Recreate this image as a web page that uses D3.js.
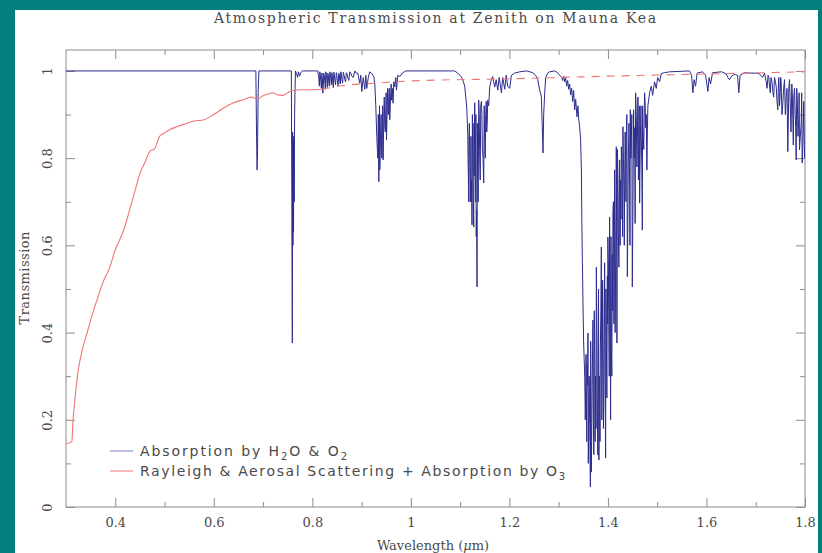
<!DOCTYPE html>
<html>
<head>
<meta charset="utf-8">
<script src="https://cdn.jsdelivr.net/npm/d3@7"></script>
<style>
    body { margin: 0; background: #037e7f; }
    svg { display: block; }
</style>
</head>
<body>
<svg id="chart" width="822" height="553"></svg>
<script>
// transmission spectrum: [wavelength (um), transmission]
let absFlat = [[0.300,1.0],[0.6854,1.0],[0.6868,0.85],[0.6878,0.773],[0.6886,0.80],[0.6900,0.95],[0.6915,1.0],[0.7574,1.0]];
let absO2A = [[0.7584,0.70],[0.7594,0.376],[0.7600,0.86],[0.7606,0.60],[0.7612,0.85],[0.7618,0.63],[0.7625,0.84],[0.7632,0.70],
    [0.7640,0.90],[0.7648,0.95],[0.7658,1.0],[0.7680,0.994],[0.7700,0.985],[0.7720,0.998],[0.7740,0.988],[0.7770,0.997],[0.7800,1.0],[0.8112,1.0]];
let absH2O09 = [[0.8132,0.985],[0.8152,0.998],[0.8173,0.975],[0.8193,0.995],[0.8213,0.949],[0.8233,0.995],[0.8254,0.972],[0.8274,0.998],
    [0.8294,0.978],[0.8314,0.995],[0.8335,0.972],[0.8355,0.998],[0.8375,0.982],[0.8396,0.996],[0.8416,0.972],[0.8436,0.997],[0.8456,0.980],
    [0.8487,0.996],[0.8507,0.978],[0.8538,0.995],[0.8558,0.975],[0.8578,0.998],[0.8598,0.982],[0.8629,0.997],[0.8659,0.980],[0.8690,0.996],
    [0.8720,0.985],[0.8761,0.998],[0.8801,0.988],[0.8862,1.0],[0.8923,0.995],[0.8963,0.972],[0.8984,0.990],[0.9004,0.953],[0.9034,0.985],
    [0.9065,0.958],[0.9085,0.990],[0.9105,0.960],[0.9136,0.985],[0.9166,0.998],[0.9207,0.994],[0.9247,0.987],[0.9268,0.970],[0.9288,0.920],
    [0.9308,0.850],[0.9329,0.800],[0.9349,0.746],[0.9359,0.850],[0.9369,0.773],[0.9389,0.880],[0.9404,0.826],[0.9420,0.860],[0.9436,0.796],
    [0.9450,0.890],[0.9471,0.872],[0.9491,0.910],[0.9505,0.842],[0.9521,0.920],[0.9537,0.903],[0.9552,0.940],[0.9572,0.888],[0.9592,0.950],
    [0.9607,0.933],[0.9623,0.960],[0.9639,0.926],[0.9653,0.975],[0.9673,0.964],[0.9694,0.985],[0.9708,0.956],[0.9734,0.990],[0.9775,0.987],
    [0.9836,0.996],[0.9897,1.0],[1.0890,1.0]];
let absH2O09b = [[0.8122,0.990],[0.8142,0.965],[0.8163,0.990],[0.8183,0.960],[0.8203,0.985],[0.8223,0.968],[0.8244,0.990],[0.8264,0.958],
    [0.8284,0.992],[0.8304,0.962],[0.8325,0.990],[0.8345,0.965],[0.8365,0.993],[0.8386,0.968],[0.8406,0.990],[0.8426,0.962],[0.8446,0.992],
    [0.8471,0.968],[0.8497,0.990],[0.8522,0.966],[0.8548,0.992],[0.8568,0.970],[0.8588,0.993],[0.8614,0.972],[0.8644,0.990],[0.8675,0.975],
    [0.8705,0.993],[0.8740,0.978],[0.8781,0.995],[0.8830,0.985],[0.8890,0.995],[0.9339,0.900],[0.9354,0.780],[0.9364,0.920],[0.9379,0.820],
    [0.9396,0.900],[0.9412,0.800],[0.9428,0.920],[0.9443,0.840],[0.9460,0.940],[0.9481,0.860],[0.9498,0.950],[0.9513,0.880],[0.9529,0.960],
    [0.9545,0.900],[0.9562,0.960],[0.9582,0.920],[0.9600,0.970],[0.9615,0.940]];
let absH2O11 = [[1.0951,0.995],[1.1012,0.988],[1.1053,0.980],[1.1093,0.965],[1.1114,0.940],[1.1134,0.917],[1.1154,0.858],[1.1168,0.750],
    [1.1179,0.840],[1.1195,0.796],[1.1215,0.757],[1.1225,0.700],[1.1241,0.647],[1.1256,0.800],[1.1276,0.642],[1.1286,0.760],[1.1296,0.927],
    [1.1312,0.700],[1.1327,0.620],[1.1343,0.505],[1.1357,0.750],[1.1377,0.933],[1.1398,0.800],[1.1418,0.920],[1.1432,0.930],[1.1452,0.820],
    [1.1479,0.743],[1.1499,0.840],[1.1519,0.900],[1.1540,0.860],[1.1560,0.933],[1.1580,0.920],[1.1600,0.963],[1.1635,0.980],[1.1661,0.987],
    [1.1702,0.963],[1.1732,0.980],[1.1763,0.956],[1.1793,0.985],[1.1838,0.950],[1.1864,0.985],[1.1905,0.958],[1.1935,0.990],[1.1965,0.965],
    [1.2006,0.960],[1.2040,0.990],[1.2108,0.995],[1.2209,0.998],[1.2351,1.0],[1.2473,0.996],[1.2533,0.990],[1.2574,0.980],[1.2615,0.956],
    [1.2649,0.941],[1.2665,0.880],[1.2682,0.812],[1.2696,0.900],[1.2716,0.950],[1.2736,0.984],[1.2777,0.995],[1.2817,0.998],[1.2919,1.0],
    [1.2980,0.996]];
let absH2O11b = [[1.1160,0.800],[1.1173,0.700],[1.1187,0.880],[1.1205,0.700],[1.1220,0.850],[1.1233,0.750],[1.1249,0.900],[1.1266,0.700],
    [1.1281,0.880],[1.1304,0.800],[1.1320,0.900],[1.1335,0.680],[1.1350,0.880],[1.1367,0.700],[1.1388,0.900],[1.1408,0.750],[1.1442,0.900],
    [1.1465,0.800],[1.1489,0.920],[1.1509,0.800],[1.1530,0.930],[1.1550,0.880]];
let absH2O14 = [[1.3020,0.990],[1.3061,0.985],[1.3081,0.978],[1.3101,0.988],[1.3122,0.975],[1.3142,0.984],[1.3162,0.965],[1.3183,0.978],
    [1.3203,0.958],[1.3223,0.970],[1.3243,0.945],[1.3264,0.960],[1.3284,0.930],[1.3304,0.955],[1.3325,0.911],[1.3345,0.935],[1.3371,0.895],
    [1.3392,0.920],[1.3406,0.890],[1.3426,0.872],[1.3446,0.842],[1.3461,0.773],[1.3471,0.650],[1.3481,0.567],[1.3493,0.470],[1.3507,0.376],
    [1.3529,0.300],[1.3548,0.261],[1.3563,0.238],[1.3578,0.330],[1.3595,0.399],[1.3609,0.200],[1.3630,0.183],[1.3644,0.046],[1.3656,0.250],
    [1.3669,0.150],[1.3696,0.429],[1.3714,0.120],[1.3730,0.400],[1.3750,0.300],[1.3765,0.550],[1.3785,0.220],[1.3801,0.350],[1.3817,0.108],
    [1.3832,0.250],[1.3846,0.360],[1.3866,0.596],[1.3886,0.330],[1.3898,0.450],[1.3919,0.280],[1.3933,0.560],[1.3953,0.112],[1.3968,0.400],
    [1.3988,0.530],[1.3999,0.619],[1.4020,0.380],[1.4034,0.665],[1.4054,0.200],[1.4069,0.370],[1.4089,0.580],[1.4101,0.674],[1.4122,0.420],
    [1.4136,0.773],[1.4156,0.550],[1.4170,0.826],[1.4183,0.376],[1.4203,0.750],[1.4223,0.550],[1.4237,0.796],[1.4258,0.750],[1.4272,0.826],
    [1.4292,0.700],[1.4304,0.872],[1.4325,0.720],[1.4339,0.740],[1.4359,0.800],[1.4373,0.850],[1.4394,0.528],[1.4414,0.800],[1.4440,0.740],
    [1.4454,0.911],[1.4475,0.840],[1.4495,0.505],[1.4521,0.911],[1.4542,0.870],[1.4562,0.950],[1.4588,0.780],[1.4609,0.940],[1.4629,0.880],
    [1.4643,0.697],[1.4663,0.880],[1.4677,0.850],[1.4698,0.635],[1.4710,0.870],[1.4744,0.950],[1.4765,0.870],[1.4791,0.773],[1.4811,0.920],
    [1.4846,0.950],[1.4880,0.965],[1.4907,0.944],[1.4947,0.975],[1.4981,0.960],[1.5008,0.985],[1.5049,0.975],[1.5083,0.994],[1.5150,0.996],
    [1.5252,0.998],[1.5657,1.0]];
let absH2O14b = [[1.3540,0.200],[1.3556,0.350],[1.3570,0.150],[1.3586,0.280],[1.3602,0.100],[1.3620,0.300],[1.3637,0.120],[1.3650,0.380],
    [1.3663,0.080],[1.3682,0.300],[1.3705,0.200],[1.3722,0.450],[1.3740,0.150],[1.3758,0.180],[1.3775,0.400],[1.3793,0.120],[1.3809,0.500],
    [1.3825,0.300],[1.3839,0.150],[1.3856,0.450],[1.3876,0.200],[1.3892,0.520],[1.3909,0.180],[1.3926,0.400],[1.3943,0.300],[1.3960,0.500],
    [1.3978,0.250],[1.3994,0.420],[1.4010,0.550],[1.4027,0.300],[1.4044,0.500],[1.4062,0.620],[1.4079,0.300],[1.4095,0.450],[1.4112,0.700],
    [1.4129,0.550],[1.4146,0.400],[1.4163,0.680],[1.4177,0.600],[1.4193,0.820],[1.4213,0.620],[1.4230,0.700],[1.4248,0.600],[1.4265,0.660],
    [1.4282,0.800],[1.4298,0.620],[1.4315,0.800],[1.4332,0.600],[1.4349,0.860],[1.4366,0.700],[1.4384,0.900],[1.4404,0.650],[1.4427,0.880],
    [1.4447,0.600],[1.4465,0.800],[1.4485,0.900],[1.4508,0.700],[1.4531,0.800],[1.4552,0.650],[1.4575,0.900],[1.4598,0.850],[1.4619,0.750],
    [1.4636,0.920],[1.4653,0.800],[1.4670,0.920],[1.4688,0.780],[1.4704,0.920],[1.4727,0.820],[1.4754,0.930],[1.4778,0.900],[1.4800,0.860]];
let absH2O18 = [[1.5698,0.990],[1.5724,0.950],[1.5749,0.980],[1.5779,0.965],[1.5810,0.995],[1.5921,0.998],[1.5982,0.990],[1.6029,0.953],
    [1.6053,0.985],[1.6083,0.970],[1.6124,0.996],[1.6306,0.998],[1.6402,0.993],[1.6434,0.985],[1.6469,0.980],[1.6509,0.988],[1.6570,0.992],
    [1.6631,0.990],[1.6657,0.950],[1.6682,0.990],[1.6773,0.996],[1.6874,0.995],[1.7010,0.995],[1.7077,0.993],[1.7138,0.985],[1.7179,0.995],
    [1.7213,0.975],[1.7250,0.990],[1.7280,0.965],[1.7310,0.985],[1.7347,0.953],[1.7381,0.985],[1.7416,0.964],[1.7448,0.911],[1.7469,0.985],
    [1.7497,0.950],[1.7517,0.970],[1.7550,0.927],[1.7584,0.980],[1.7619,0.941],[1.7651,0.815],[1.7671,0.960],[1.7700,0.925],[1.7732,0.970],
    [1.7753,0.888],[1.7773,0.940],[1.7801,0.900],[1.7821,0.796],[1.7842,0.940],[1.7874,0.890],[1.7888,0.819],[1.7923,0.880],[1.7943,0.789],
    [1.7963,0.860],[1.7975,0.930],[1.7990,0.800]];
let absH2O18b = [[1.7230,0.960],[1.7265,0.985],[1.7295,0.950],[1.7330,0.975],[1.7364,0.940],[1.7400,0.975],[1.7432,0.930],[1.7458,0.960],
    [1.7483,0.920],[1.7507,0.985],[1.7533,0.900],[1.7567,0.960],[1.7601,0.900],[1.7635,0.960],[1.7661,0.880],[1.7686,0.980],[1.7716,0.860],
    [1.7742,0.950],[1.7763,0.830],[1.7787,0.960],[1.7811,0.870],[1.7832,0.960],[1.7858,0.850],[1.7881,0.950],[1.7905,0.850],[1.7933,0.950],
    [1.7953,0.820]];

// Rayleigh + aerosol + O3 curve (solid up to rayCut, dashed beyond)
let rayWl = [0.300,0.312,0.314,0.318,0.324,0.333,0.343,0.353,0.363,0.375,0.389,0.400,0.410,0.420,0.430,0.440,0.450,0.460,0.470,0.480,
    0.490,0.500,0.510,0.525,0.540,0.560,0.580,0.600,0.620,0.640,0.660,0.675,0.690,0.700,0.710,0.720,0.730,0.740,0.750,0.760,0.780,0.800,
    0.820,0.860,0.930,1.000,1.200,1.400,1.600,1.800];
let rayT = [0.145,0.150,0.195,0.245,0.307,0.360,0.400,0.440,0.475,0.515,0.550,0.590,0.615,0.645,0.685,0.725,0.765,0.790,0.815,0.822,
    0.850,0.858,0.865,0.872,0.878,0.885,0.888,0.900,0.915,0.927,0.934,0.940,0.936,0.943,0.947,0.950,0.945,0.944,0.950,0.955,0.957,0.957,
    0.958,0.966,0.972,0.977,0.982,0.988,0.993,0.998];
let rayCut = 0.82;

let xMajor = [0.4,0.6,0.8,1.0,1.2,1.4,1.6,1.8];
let xMinor = [0.5,0.7,0.9,1.1,1.3,1.5,1.7];
let yMajor = [0,0.2,0.4,0.6,0.8,1.0];
let yMinor = [0.1,0.3,0.5,0.7,0.9];

let title = "Atmospheric Transmission at Zenith on Mauna Kea";
let yTitle = "Transmission";
let legendAbs = [["Absorption by H",0],["2",1],["O & O",0],["2",1]];
let legendRay = [["Rayleigh & Aerosal Scattering + Absorption by O",0],["3",1]];

let serif = "DejaVu Serif";
let textColor = "#4a4a4a";
let frameColor = "#8c8c8c";
let blue = "#2c2c8e";
let red = "#f07575";

let svg = d3.select("#chart");
svg.append("rect").attr("x", 15).attr("y", 10).attr("width", 807).attr("height", 543).attr("fill", "#fff");

let x = d3.scaleLinear().domain([0.3, 1.8]).range([66, 805]);
let y = d3.scaleLinear().domain([0, 1.048]).range([507, 50]);

svg.append("clipPath").attr("id", "plot")
    .append("rect").attr("x", 66).attr("y", 50).attr("width", 739).attr("height", 457);

function drawAxis(axis, tx, ty) {
    let g = svg.append("g").attr("transform", "translate(" + tx + "," + ty + ")").call(axis);
    g.select(".domain").remove();
    g.attr("font-family", serif).attr("font-size", 13);
    g.selectAll("line").attr("stroke", frameColor);
    g.selectAll("text").attr("fill", textColor);
    return g;
}
let fmt = function(d) { return String(+d.toFixed(1)); };

// inward ticks on all four sides
drawAxis(d3.axisBottom(x).tickValues(xMajor).tickSize(-9).tickSizeOuter(0).tickPadding(11).tickFormat(fmt), 0, y(0));
drawAxis(d3.axisBottom(x).tickValues(xMinor).tickSize(-5).tickSizeOuter(0).tickFormat(""), 0, y(0));
drawAxis(d3.axisTop(x).tickValues(xMajor).tickSize(-9).tickSizeOuter(0).tickFormat(""), 0, 50);
drawAxis(d3.axisTop(x).tickValues(xMinor).tickSize(-5).tickSizeOuter(0).tickFormat(""), 0, 50);
let gy = drawAxis(d3.axisLeft(y).tickValues(yMajor).tickSize(-9).tickSizeOuter(0).tickFormat(fmt), 66, 0);
gy.selectAll("text")
    .attr("transform", "rotate(-90)")
    .attr("x", 0).attr("y", -14).attr("dy", 0)
    .attr("text-anchor", "middle");
drawAxis(d3.axisLeft(y).tickValues(yMinor).tickSize(-5).tickSizeOuter(0).tickFormat(""), 66, 0);
drawAxis(d3.axisRight(y).tickValues(yMajor).tickSize(-9).tickSizeOuter(0).tickFormat(""), 805, 0);
drawAxis(d3.axisRight(y).tickValues(yMinor).tickSize(-5).tickSizeOuter(0).tickFormat(""), 805, 0);

svg.append("rect").attr("x", 66).attr("y", 50).attr("width", 739).attr("height", 457)
    .attr("fill", "none").attr("stroke", frameColor);

// absorption spectrum, all pieces merged in wavelength order
let absorption = absFlat.concat(absO2A, absH2O09, absH2O09b, absH2O11, absH2O11b, absH2O14, absH2O14b, absH2O18, absH2O18b)
    .sort(function(a, b) { return a[0] - b[0]; });
let line = d3.line()
    .x(function(d) { return x(d[0]); })
    .y(function(d) { return y(d[1]); });

svg.append("path")
    .datum(absorption)
    .attr("clip-path", "url(#plot)")
    .attr("d", line)
    .attr("fill", "none")
    .attr("stroke", blue)
    .attr("stroke-width", 1)
    .attr("stroke-linejoin", "miter");

// scattering curve
let rayleigh = rayWl.map(function(w, i) { return [w, rayT[i]]; });
svg.append("path")
    .datum(rayleigh.filter(function(d) { return d[0] <= rayCut; }))
    .attr("clip-path", "url(#plot)")
    .attr("d", line.curve(d3.curveMonotoneX))
    .attr("fill", "none")
    .attr("stroke", red)
    .attr("stroke-width", 1.1);
svg.append("path")
    .datum(rayleigh.filter(function(d) { return d[0] >= rayCut; }))
    .attr("clip-path", "url(#plot)")
    .attr("d", line)
    .attr("fill", "none")
    .attr("stroke", red)
    .attr("stroke-width", 1.1)
    .attr("stroke-dasharray", "8,7");

// titles
svg.append("text")
    .attr("x", 435).attr("y", 23)
    .attr("text-anchor", "middle")
    .attr("font-family", serif).attr("font-size", 14)
    .attr("fill", textColor)
    .attr("textLength", 442).attr("lengthAdjust", "spacing")
    .text(title);

let xt = svg.append("text")
    .attr("x", 433).attr("y", 550)
    .attr("text-anchor", "middle")
    .attr("font-family", serif).attr("font-size", 13)
    .attr("fill", textColor);
xt.append("tspan").text("Wavelength (");
xt.append("tspan").attr("font-style", "italic").text("\u03bc");
xt.append("tspan").text("m)");

svg.append("text")
    .attr("transform", "translate(29,278) rotate(-90)")
    .attr("text-anchor", "middle")
    .attr("font-family", serif).attr("font-size", 13)
    .attr("fill", textColor)
    .attr("textLength", 93).attr("lengthAdjust", "spacing")
    .text(yTitle);

// legend
let legendItems = [
    {parts: legendAbs, color: "#7a7ac4", width: 207},
    {parts: legendRay, color: red, width: 425}
];
legendItems.forEach(function(item, i) {
    let ly = 451 + i * 20;
    svg.append("line")
        .attr("x1", 110).attr("x2", 133)
        .attr("y1", ly).attr("y2", ly)
        .attr("stroke", item.color);
    let t = svg.append("text")
        .attr("x", 140).attr("y", ly + 5)
        .attr("font-family", "DejaVu Sans").attr("font-size", 14)
        .attr("fill", textColor)
        .attr("textLength", item.width).attr("lengthAdjust", "spacing");
    let shifted = 0;
    item.parts.forEach(function(p) {
        let s = t.append("tspan").text(p[0]);
        if (p[1] && !shifted) { s.attr("dy", 4).attr("font-size", 10); shifted = 1; }
        else if (p[1]) { s.attr("font-size", 10); }
        else if (shifted) { s.attr("dy", -4); shifted = 0; }
    });
});

// teal border clipping the right edge
svg.append("rect").attr("x", 818).attr("y", 0).attr("width", 4).attr("height", 553).attr("fill", "#037e7f");
</script>
</body>
</html>
